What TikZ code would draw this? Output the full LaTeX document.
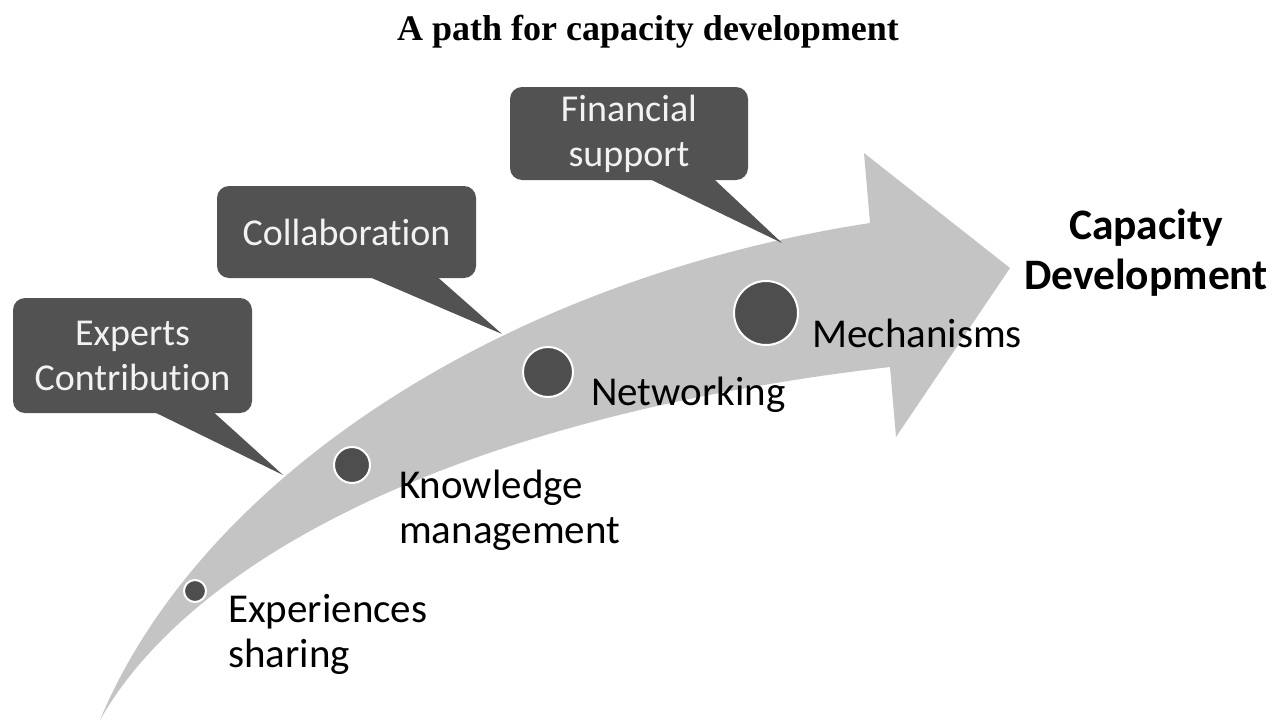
\documentclass[tikz,border=0pt]{standalone}
\usepackage{fontspec}
\setmainfont{Carlito}[Ligatures=NoCommon]
\newfontfamily\titlefont{Liberation Serif}
\usetikzlibrary{calc}

\definecolor{arrowgray}{RGB}{196,196,196}
\definecolor{bubblegray}{RGB}{82,82,82}
\definecolor{dotgray}{RGB}{78,78,78}

\begin{document}
\begin{tikzpicture}[x=1pt, y=-1pt,
        bubble/.style={fill=bubblegray, text=white!95!black, rounded corners=12pt, align=center, inner sep=0pt, font=\fontsize{38}{45}\selectfont},
        dot/.style={circle, fill=dotgray, draw=white, line width=2pt, inner sep=0pt},
        lbl/.style={anchor=west, align=left, inner sep=0pt, font=\fontsize{41}{45}\selectfont}]
        \useasboundingbox (0,0) rectangle (1285,725);

        % title
        \node[font=\titlefont\bfseries\fontsize{36}{42}\selectfont] (title) at (648,32) {A path for capacity development};

        % curved arrow
        \fill[arrowgray] (100,720) .. controls (200,480) and (500,280) .. (870,223) -- (864,153) -- (1010,268) -- (896,437) -- (890,367) .. controls (435,420) and (185,570) .. (100,720) -- cycle;

        % dots and their labels
        \node[dot, minimum size=22pt] (d1) at (195,591) {};
        \node[dot, minimum size=36pt] (d2) at (352,465) {};
        \node[dot, minimum size=50pt] (d3) at (548,372) {};
        \node[dot, minimum size=64pt] (d4) at (766,313) {};

        \node[lbl] (l1) at (228,634) {Experiences\\sharing};
        \node[lbl] (l2) at (399,510) {Knowledge\\management};
        \node[lbl] (l3) at (591,395) {Networking};
        \node[lbl] (l4) at (812,333) {Mechanisms};

        \node[font=\bfseries\fontsize{43.5}{50}\selectfont, align=center] (goal) at (1146,253) {Capacity\\Development};

        % speech bubbles
        \coordinate (t1) at (283,475);
        \coordinate (t2) at (502,334);
        \coordinate (t3) at (782,243);

        \node[bubble, minimum width=239pt, minimum height=115pt] (b1) at (132.5,355.5) {Experts\\Contribution};
        \fill[bubblegray] ([xshift=20pt,yshift=2pt]b1.south) -- (t1) -- ([xshift=80pt,yshift=2pt]b1.south) -- cycle;

        \node[bubble, minimum width=259pt, minimum height=92pt] (b2) at (346.5,232) {Collaboration};
        \fill[bubblegray] ([xshift=21pt,yshift=2pt]b2.south) -- (t2) -- ([xshift=90pt,yshift=2pt]b2.south) -- cycle;

        \node[bubble, minimum width=238pt, minimum height=93pt] (b3) at (629,133.5) {Financial\\support};
        \fill[bubblegray] ([xshift=19pt,yshift=2pt]b3.south) -- (t3) -- ([xshift=84pt,yshift=2pt]b3.south) -- cycle;
\end{tikzpicture}
\end{document}
